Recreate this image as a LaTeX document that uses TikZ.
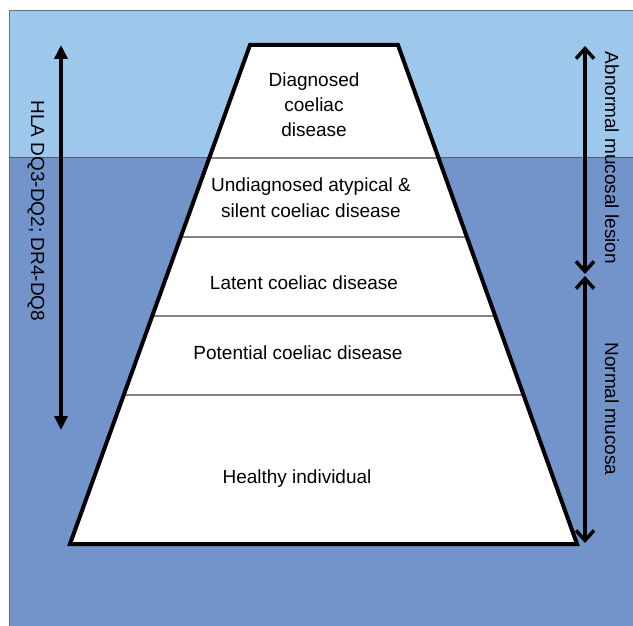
\documentclass[tikz,border=0pt]{standalone}
\usepackage{fontspec}
\setmainfont{Liberation Sans}
\usetikzlibrary{arrows.meta,calc}
\definecolor{sky}{RGB}{157,200,235}
\definecolor{sea}{RGB}{115,147,203}
\definecolor{rim}{RGB}{70,80,100}
\definecolor{divgray}{RGB}{130,130,130}
\tikzset{
  lbl/.style={inner sep=0pt, font=\fontsize{19}{25}\selectfont, text=black},
  linetext/.style={lbl, anchor=base},
  sidetext/.style={lbl, rotate=-90, anchor=center},
  divider/.style={draw=divgray, line width=1.5pt},
  outline/.style={draw=black, line width=4pt, line join=miter},
  hlaarrow/.style={draw=black, line width=3.5pt, {Triangle[length=14pt,width=13pt]}-{Triangle[length=14pt,width=13pt]}},
  mucarrow/.style={draw=black, line width=3.5pt, {Straight Barb[length=10pt,width=18pt,line width=3.5pt]}-{Straight Barb[length=10pt,width=18pt,line width=3.5pt]}}
}
\begin{document}
\begin{tikzpicture}[x=1pt,y=-1pt]
\useasboundingbox (0,0) rectangle (633,626);
\fill[white] (0,0) rectangle (633,626);
\fill[sky] (9,10) rectangle (633,158);
\fill[sea] (9,158) rectangle (633,626);
\draw[rim!70!sky, line width=0.8pt] (9,626) -- (9,10) -- (633,10);
\draw[rim!80!sea, line width=1pt] (9,158) -- (633,158);
% trapezoid corners
\coordinate (tl) at (250,45);
\coordinate (tr) at (398,45);
\coordinate (br) at (577,544);
\coordinate (bl) at (70,544);
\fill[white] (tl) -- (tr) -- (br) -- (bl) -- cycle;
% dividers
\foreach \t in {0.2265,0.3848,0.5431,0.7014}{
  \draw[divider] ($(tl)!\t!(bl)$) -- ($(tr)!\t!(br)$);
}
\draw[outline] (tl) -- (tr) -- (br) -- (bl) -- cycle;
% layer texts
\node[linetext] (d1) at (314,87) {Diagnosed};
\node[linetext] (d2) at (314,112) {coeliac};
\node[linetext] (d3) at (314,137) {disease};
\node[linetext] (u1) at (311,192) {Undiagnosed atypical \&};
\node[linetext] (u2) at (311,217) {silent coeliac disease};
\node[linetext] (lat) at (304,289) {Latent coeliac disease};
\node[linetext] (pot) at (298,359) {Potential coeliac disease};
\node[linetext] (hea) at (297,483) {Healthy individual};
% left arrow
\coordinate (hlatop) at (61,45);
\coordinate (hlabot) at (61,430);
\draw[hlaarrow] (hlatop) -- (hlabot);
\node[sidetext] (hla) at (36,211) {HLA DQ3-DQ2; DR4-DQ8};
% right arrows
\coordinate (abtop) at (585,46);
\coordinate (abbot) at (585,274);
\coordinate (notop) at (585,276);
\coordinate (nobot) at (585,543);
\draw[mucarrow] (abtop) -- (abbot);
\draw[mucarrow] (notop) -- (nobot);
\node[sidetext] (abn) at (612,158) {Abnormal mucosal lesion};
\node[sidetext] (nor) at (612,409) {Normal mucosa};
\end{tikzpicture}
\end{document}
